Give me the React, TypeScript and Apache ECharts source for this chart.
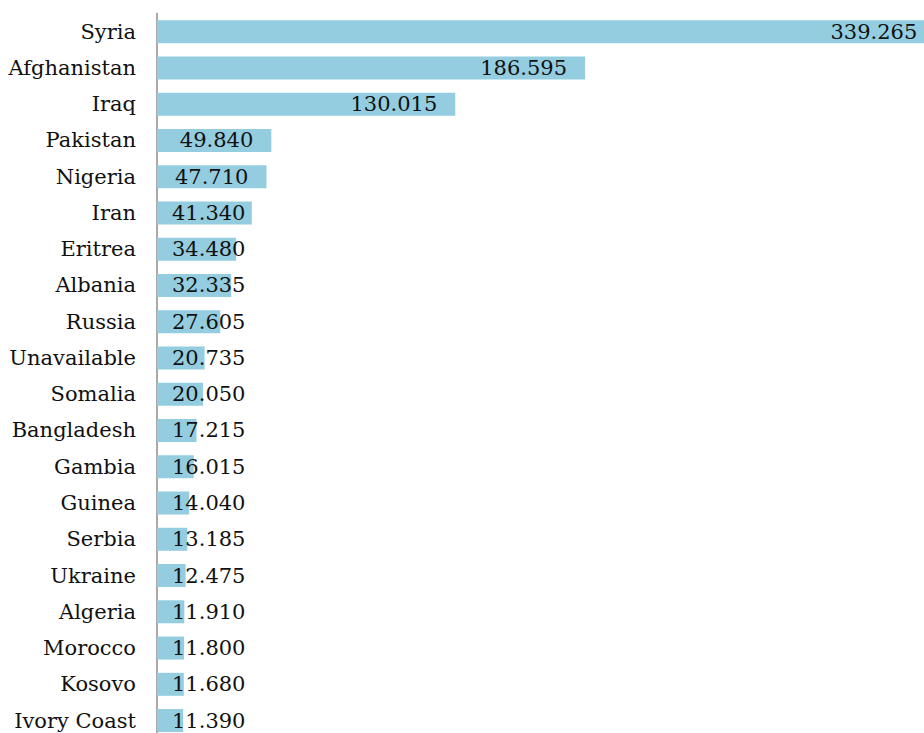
import React, { useEffect, useRef } from "react";
import * as echarts from "echarts";

const categories = [
  "Syria", "Afghanistan", "Iraq", "Pakistan", "Nigeria", "Iran", "Eritrea", "Albania",
  "Russia", "Unavailable", "Somalia", "Bangladesh", "Gambia", "Guinea", "Serbia",
  "Ukraine", "Algeria", "Morocco", "Kosovo", "Ivory Coast",
];
const values = [
  339265, 186595, 130015, 49840, 47710, 41340, 34480, 32335, 27605, 20735, 20050,
  17215, 16015, 14040, 13185, 12475, 11910, 11800, 11680, 11390,
];

const FONT_FAMILY = "'DejaVu Serif', Georgia, serif";
const FONT_SIZE = 21;
const X_MAX = 340000;
const GRID_LEFT = 157;
const GRID_WIDTH = 780;

function fmt(v: number): string {
  return String(v).replace(/\B(?=(\d{3})+(?!\d))/g, ".");
}

function measure(text: string): number {
  const c = document.createElement("canvas");
  const ctx = c.getContext("2d");
  if (!ctx) return text.length * 12;
  ctx.font = `${FONT_SIZE}px ${FONT_FAMILY}`;
  return ctx.measureText(text).width;
}

export default function App() {
  const ref = useRef<HTMLDivElement>(null);
  useEffect(() => {
    if (!ref.current) return;
    const chart = echarts.init(ref.current, undefined, { renderer: "svg" });
    const scale = GRID_WIDTH / X_MAX;
    const data = values.map((v) => {
      const txt = fmt(v);
      const w = measure(txt);
      const barPx = v * scale;
      const fitsRight = barPx - 18 - w >= 15;
      return {
        value: v,
        label: fitsRight
          ? { position: "insideRight", distance: 18 }
          : { position: "insideLeft", distance: 15 },
      };
    });
    chart.setOption({
      animation: false,
      grid: {
        left: GRID_LEFT,
        top: 13.5,
        width: GRID_WIDTH,
        height: 725.2,
        outerBoundsMode: "none",
        containLabel: false,
      },
      xAxis: {
        type: "value",
        min: 0,
        max: X_MAX,
        show: false,
      },
      yAxis: {
        type: "category",
        data: categories,
        inverse: true,
        axisLine: { show: true, lineStyle: { color: "#8c8c8c", width: 1.5 } },
        axisTick: { show: false },
        axisLabel: {
          margin: 21,
          color: "#111",
          fontFamily: FONT_FAMILY,
          fontSize: FONT_SIZE,
        },
      },
      series: [
        {
          type: "bar",
          data,
          barWidth: 23,
          clip: false,
          itemStyle: { color: "#93cddf" },
          label: {
            show: true,
            color: "#111",
            fontFamily: FONT_FAMILY,
            fontSize: FONT_SIZE,
            formatter: (p: any) => fmt(p.value),
          },
        },
      ],
    });
    return () => chart.dispose();
  }, []);
  return (
    <div
      ref={ref}
      style={{ position: "absolute", left: 0, top: 0, width: 924, height: 733 }}
    />
  );
}
